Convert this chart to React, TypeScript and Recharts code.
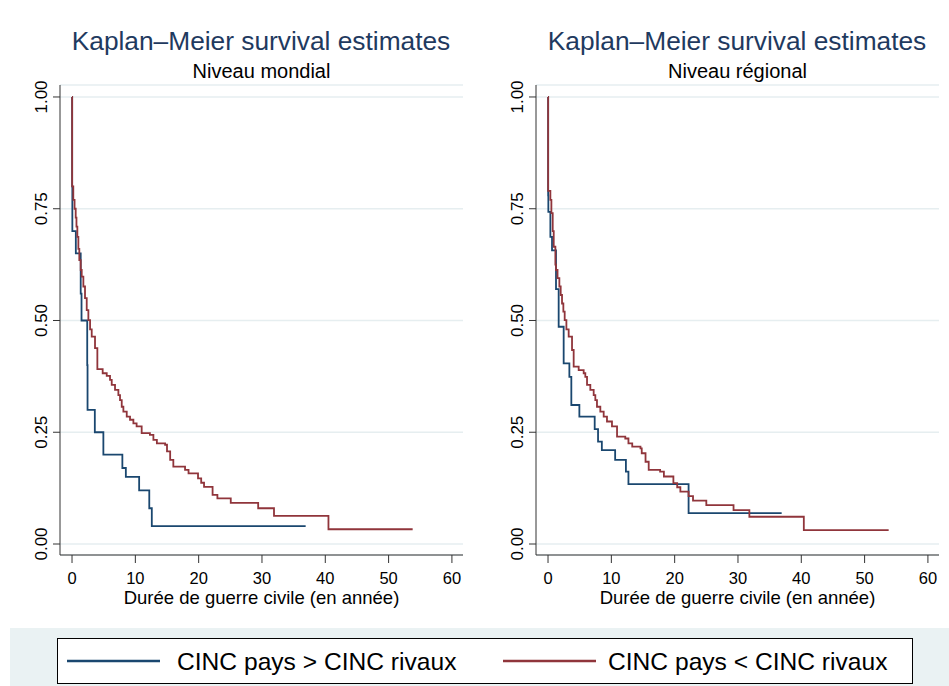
import React from "react";
import { LineChart, Line, XAxis, YAxis, CartesianGrid } from "recharts";

// Kaplan–Meier step points: [time (years), survival]
const mondialFort: [number, number][] = [
  [0, 1.0], [0.02, 0.8], [0.05, 0.7], [0.6, 0.65], [1.37, 0.56], [1.5, 0.5],
  [2.4, 0.4], [2.45, 0.3], [3.6, 0.25], [4.95, 0.2], [7.95, 0.17], [8.5, 0.15],
  [10.6, 0.12], [12.2, 0.08], [12.6, 0.04], [36.9, 0.04],
];
const mondialFaible: [number, number][] = [
  [0, 1.0], [0.02, 0.8], [0.2, 0.77], [0.4, 0.75], [0.58, 0.73], [0.7, 0.71],
  [0.84, 0.687], [1.0, 0.66], [1.15, 0.635], [1.37, 0.613], [1.53, 0.598],
  [1.79, 0.576], [2.05, 0.55], [2.32, 0.523], [2.58, 0.501], [2.85, 0.48],
  [3.11, 0.464], [3.63, 0.438], [4.0, 0.391], [4.84, 0.382], [5.48, 0.376],
  [6.0, 0.367], [6.27, 0.356], [6.79, 0.345], [7.32, 0.333], [7.58, 0.322],
  [7.85, 0.307], [8.11, 0.296], [8.64, 0.285], [9.16, 0.278], [9.69, 0.27],
  [10.2, 0.263], [11.0, 0.248], [12.3, 0.244], [12.85, 0.233], [13.4, 0.225],
  [14.7, 0.222], [15.0, 0.207], [15.5, 0.188], [16.0, 0.173], [17.85, 0.166],
  [18.4, 0.158], [19.9, 0.147], [20.4, 0.137], [20.85, 0.128], [22.2, 0.11],
  [22.96, 0.102], [25.07, 0.092], [29.4, 0.08], [31.9, 0.063], [40.5, 0.033],
  [53.8, 0.033],
];
const regionalFort: [number, number][] = [
  [0, 1.0], [0.02, 0.78], [0.05, 0.743], [0.37, 0.687], [0.63, 0.657],
  [1.26, 0.57], [1.68, 0.486], [2.47, 0.404], [3.37, 0.374], [3.68, 0.311],
  [4.95, 0.285], [7.37, 0.257], [7.9, 0.229], [8.5, 0.21], [10.6, 0.188],
  [12.3, 0.162], [12.7, 0.134], [22.2, 0.069], [36.9, 0.069],
];
const regionalFaible: [number, number][] = [
  [0, 1.0], [0.02, 0.79], [0.37, 0.77], [0.53, 0.74], [0.74, 0.7], [0.9, 0.665],
  [1.16, 0.625], [1.26, 0.613], [1.5, 0.595], [1.79, 0.576], [2.0, 0.557],
  [2.21, 0.538], [2.42, 0.52], [2.63, 0.501], [2.9, 0.48], [3.26, 0.464],
  [3.79, 0.434], [4.05, 0.397], [4.84, 0.389], [5.63, 0.382], [5.89, 0.374],
  [6.16, 0.356], [6.68, 0.345], [7.21, 0.333], [7.47, 0.322], [7.73, 0.307],
  [8.26, 0.296], [8.79, 0.285], [9.31, 0.274], [10.1, 0.263], [10.9, 0.24],
  [12.2, 0.236], [12.7, 0.225], [13.3, 0.218], [14.6, 0.214], [14.8, 0.203],
  [15.4, 0.184], [15.9, 0.166], [17.7, 0.162], [18.3, 0.151], [19.8, 0.136],
  [20.4, 0.127], [20.9, 0.117], [22.2, 0.107], [22.9, 0.097], [25.0, 0.087],
  [29.3, 0.076], [31.8, 0.061], [40.4, 0.031], [53.8, 0.031],
];

const xTicks = [0, 10, 20, 30, 40, 50, 60];
const yTicks = [0, 0.25, 0.5, 0.75, 1];
const titleText = "Kaplan–Meier survival estimates";
const subtitles = ["Niveau mondial", "Niveau régional"];
const xLabel = "Durée de guerre civile (en année)";
const seriesNames = ["CINC pays > CINC rivaux", "CINC pays < CINC rivaux"];

const BLUE = "#1a476f";
const RED = "#90353b";
const FONT = "'Liberation Sans', Arial, sans-serif";

const toRows = (pts: [number, number][]) => pts.map(([t, s]) => ({ t, s }));

const YTick = (props: any) => {
  const { x, y, payload } = props;
  const bx = x - 4;
  return (
    <text
      x={bx}
      y={y}
      transform={`rotate(-90, ${bx}, ${y})`}
      textAnchor="middle"
      fontSize={17}
      fontFamily={FONT}
      fill="#000"
    >
      {Number(payload.value).toFixed(2)}
    </text>
  );
};

const Panel = ({ left, fort, faible }: { left: number; fort: [number, number][]; faible: [number, number][] }) => (
  <div style={{ position: "absolute", left, top: 0 }}>
    <LineChart width={475} height={620} margin={{ top: 85, right: 12, bottom: 0, left: 0 }}>
      <CartesianGrid horizontal vertical={false} stroke="#e6eef0" strokeWidth={1.5} />
      <XAxis
        type="number"
        dataKey="t"
        domain={[-1.9, 61.75]}
        ticks={xTicks}
        allowDataOverflow
        height={65}
        tickSize={8}
        tickMargin={9}
        stroke="#333"
        tick={{ fontSize: 16.5, fill: "#000", fontFamily: FONT }}
        label={{ value: xLabel, position: "insideBottom", offset: 16, fontSize: 18.5, fill: "#000", fontFamily: FONT }}
      />
      <YAxis
        type="number"
        domain={[-0.0246, 1.0268]}
        ticks={yTicks}
        allowDataOverflow
        width={60}
        tickSize={7}
        stroke="#333"
        tick={<YTick />}
      />
      <Line
        data={toRows(fort)}
        dataKey="s"
        type="stepAfter"
        stroke={BLUE}
        strokeWidth={1.8}
        dot={false}
        isAnimationActive={false}
      />
      <Line
        data={toRows(faible)}
        dataKey="s"
        type="stepAfter"
        stroke={RED}
        strokeWidth={1.8}
        dot={false}
        isAnimationActive={false}
      />
    </LineChart>
  </div>
);

export default function App() {
  return (
    <div style={{ position: "fixed", left: 0, top: 0, width: 949, height: 686, background: "#fff", overflow: "hidden", fontFamily: FONT }}>
      <svg width={949} height={686} style={{ position: "absolute", left: 0, top: 0 }}>
        {[0, 1].map((i) => (
          <g key={i}>
            <text x={261 + i * 476} y={50} textAnchor="middle" fontSize={26.3} fill="#1f3a5f" fontFamily={FONT}>
              {titleText}
            </text>
            <text x={261.5 + i * 476} y={78} textAnchor="middle" fontSize={20} fill="#000" fontFamily={FONT}>
              {subtitles[i]}
            </text>
          </g>
        ))}
        <rect x={10} y={628} width={939} height={58} fill="#eaf2f3" />
        <rect x={57.5} y={638.5} width={855} height={45} fill="#fff" stroke="#000" strokeWidth={1} />
        <line x1={67} x2={160} y1={661} y2={661} stroke={BLUE} strokeWidth={2.5} />
        <text x={177} y={669.5} fontSize={24.6} fill="#000" fontFamily={FONT}>{seriesNames[0]}</text>
        <line x1={503} x2={596} y1={661} y2={661} stroke={RED} strokeWidth={2.5} />
        <text x={608} y={669.5} fontSize={24.6} fill="#000" fontFamily={FONT}>{seriesNames[1]}</text>
      </svg>
      <Panel left={0} fort={mondialFort} faible={mondialFaible} />
      <Panel left={476} fort={regionalFort} faible={regionalFaible} />
    </div>
  );
}
